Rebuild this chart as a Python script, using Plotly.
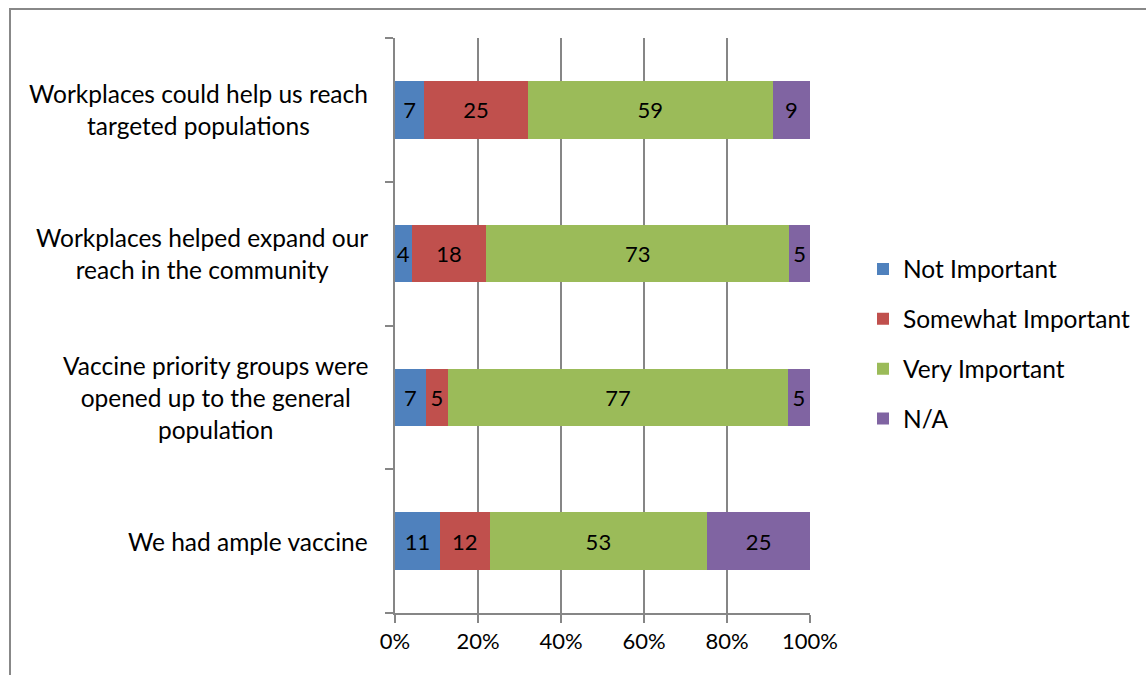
import plotly.graph_objects as go

categories = [
    "We had ample vaccine",
    "Vaccine priority groups were<br>opened up to the general<br>population",
    "Workplaces helped expand our<br>reach in the community",
    "Workplaces could help us reach<br>targeted populations",
]
not_important = [11, 7, 4, 7]
somewhat_important = [12, 5, 18, 25]
very_important = [53, 77, 73, 59]
na = [25, 5, 5, 9]

series = [
    ("Not Important", not_important, "#4F81BD"),
    ("Somewhat Important", somewhat_important, "#C0504D"),
    ("Very Important", very_important, "#9BBB59"),
    ("N/A", na, "#8064A2"),
]
x_ticks = [0, 20, 40, 60, 80, 100]

FONT = "Lato"
FS = 22
FS_LABEL = 24.5
W, H = 1146, 675
L, R, T, B = 395, 336, 38, 62
pw = W - L - R
ph = H - T - B

fig = go.Figure()
for i, (name, vals, color) in enumerate(series):
    fig.add_trace(go.Bar(
        y=categories, x=vals, name=name, orientation="h",
        marker=dict(color=color, line=dict(width=0)),
        text=[str(v) for v in vals], textposition="inside",
        insidetextanchor="middle", constraintext="none",
        textfont=dict(family=FONT, size=FS, color="black"),
        legendgroup=str(i),
    ))

for c in categories:
    fig.add_annotation(
        x=(370 - L) / pw, xref="paper", y=c, yref="y",
        text=c, showarrow=False, xanchor="right", yanchor="middle",
        align="center", font=dict(family=FONT, size=FS_LABEL, color="black"),
    )

fig.add_shape(
    type="rect", xref="paper", yref="paper",
    x0=(10 - L) / pw, x1=(W + 20 - L) / pw,
    y0=-(H + 20 - (H - B)) / ph, y1=1 + (T - 9) / ph,
    line=dict(color="#888888", width=2), fillcolor="rgba(0,0,0,0)",
    layer="below",
)

fig.update_layout(
    width=W, height=H,
    margin=dict(l=L, r=R, t=T, b=B, pad=0, autoexpand=False),
    barmode="stack", barnorm="percent", bargap=0.6,
    plot_bgcolor="white", paper_bgcolor="white",
    font=dict(family=FONT, size=FS, color="black"),
    uniformtext=dict(minsize=FS, mode="show"),
    legend=dict(
        x=1 + (863 - L - pw) / pw, y=1 - (344 - T) / ph,
        xanchor="left", yanchor="middle",
        traceorder="grouped", tracegroupgap=15,
        font=dict(family=FONT, size=FS_LABEL, color="black"),
        itemwidth=30, bgcolor="rgba(0,0,0,0)",
    ),
    xaxis=dict(
        range=[0, 100], tickvals=x_ticks, ticktext=[f"{v}%" for v in x_ticks],
        showgrid=True, gridcolor="#868686", gridwidth=2,
        showline=True, linecolor="#868686", linewidth=2,
        ticks="outside", ticklen=8, tickcolor="#868686", tickwidth=2,
        zeroline=False, fixedrange=True, automargin=False,
        tickfont=dict(family=FONT, size=FS, color="black"),
    ),
    yaxis=dict(
        categoryorder="array", categoryarray=categories,
        showticklabels=False, tickson="boundaries",
        showline=True, linecolor="#868686", linewidth=2,
        ticks="outside", ticklen=8, tickcolor="#868686", tickwidth=2,
        showgrid=False, zeroline=False, fixedrange=True, automargin=False,
    ),
)

fig.write_html("out.html")
